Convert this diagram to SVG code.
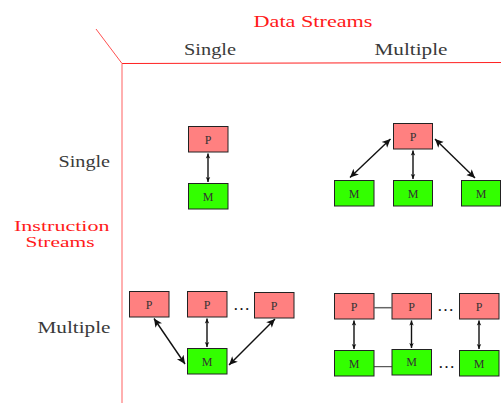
<svg xmlns="http://www.w3.org/2000/svg" width="501" height="403" viewBox="0 0 501 403">
<defs>
<style>
.lab{font-family:"Liberation Serif","DejaVu Serif",serif;font-size:17px;fill:#3a3a3a}
.red{font-family:"Liberation Serif","DejaVu Serif",serif;font-size:17px;fill:#ff1a1a}
.red2{font-family:"Liberation Serif","DejaVu Serif",serif;font-size:15.5px;fill:#ff1a1a}
.p rect{fill:#ff8080;stroke:#222;stroke-width:1}
.m rect{fill:#33ff00;stroke:#222;stroke-width:1}
.nt{font-family:"Liberation Serif","DejaVu Serif",serif;font-size:12px;fill:#333;text-anchor:middle}
.ar{stroke:#111;stroke-width:1.4;fill:none;marker-start:url(#ah);marker-end:url(#ah)}
.ars{stroke:#111;stroke-width:1.4;fill:none;marker-start:url(#ahs);marker-end:url(#ahs)}
.dots{font-family:"Liberation Serif","DejaVu Serif",serif;font-size:17px;fill:#111;text-anchor:middle}
</style>
<marker id="ah" markerUnits="userSpaceOnUse" markerWidth="10" markerHeight="9" refX="8.5" refY="4.5" orient="auto-start-reverse"><path d="M0,0.5 L8.5,4.5 L0,8.5 L2.2,4.5 z" fill="#111"/></marker>
<marker id="ahs" markerUnits="userSpaceOnUse" markerWidth="6" markerHeight="6" refX="5" refY="3" orient="auto-start-reverse"><path d="M0,0.8 L5,3 L0,5.2 L1.2,3 z" fill="#111"/></marker>
</defs>
<g id="axes" stroke="#ff2020" stroke-width="1" fill="none">
<line x1="96" y1="29" x2="122" y2="63.5" stroke="#ff5050"/>
<line x1="122" y1="63.5" x2="501" y2="62.5"/>
<line x1="122" y1="63.5" x2="122" y2="403" stroke="#ff6060"/>
</g>
<g id="labels">
<text class="red" x="313" y="26.5" text-anchor="middle" textLength="119" lengthAdjust="spacingAndGlyphs">Data Streams</text>
<text class="lab" x="210" y="54.5" text-anchor="middle" textLength="52" lengthAdjust="spacingAndGlyphs">Single</text>
<text class="lab" x="411" y="54.5" text-anchor="middle" textLength="73" lengthAdjust="spacingAndGlyphs">Multiple</text>
<text class="lab" x="58.5" y="166.5" textLength="51.5" lengthAdjust="spacingAndGlyphs">Single</text>
<text class="red2" x="14" y="231" textLength="95.5" lengthAdjust="spacingAndGlyphs">Instruction</text>
<text class="red2" x="25.5" y="247.3" textLength="69" lengthAdjust="spacingAndGlyphs">Streams</text>
<text class="lab" x="37.5" y="332.5" textLength="73" lengthAdjust="spacingAndGlyphs">Multiple</text>
</g>
<g id="sisd-p" class="p"><rect x="188.5" y="126.5" width="39.5" height="25.5"/><text class="nt" x="208.2" y="143.5">P</text></g>
<g id="sisd-m" class="m"><rect x="188.5" y="183.5" width="39.5" height="25.5"/><text class="nt" x="208.2" y="200.5">M</text></g>
<g id="simd-p" class="p"><rect x="393.5" y="123.5" width="39" height="25.5"/><text class="nt" x="413" y="140.5">P</text></g>
<g id="simd-m1" class="m"><rect x="334.5" y="180.5" width="39.5" height="25.5"/><text class="nt" x="354.2" y="197.5">M</text></g>
<g id="simd-m2" class="m"><rect x="393.5" y="180.5" width="39" height="25.5"/><text class="nt" x="413" y="197.5">M</text></g>
<g id="simd-m3" class="m"><rect x="461.5" y="180.5" width="39" height="25.5"/><text class="nt" x="481" y="197.5">M</text></g>
<g id="misd-p1" class="p"><rect x="129.5" y="291.5" width="39.5" height="25.5"/><text class="nt" x="149.2" y="308.5">P</text></g>
<g id="misd-p2" class="p"><rect x="187.5" y="291.5" width="39.5" height="25.5"/><text class="nt" x="207.2" y="308.5">P</text></g>
<g id="misd-p3" class="p"><rect x="254.5" y="292.5" width="39.5" height="25.5"/><text class="nt" x="274.2" y="309.5">P</text></g>
<g id="misd-m" class="m"><rect x="187.5" y="348.5" width="39.5" height="25.5"/><text class="nt" x="207.2" y="365.5">M</text></g>
<g id="mimd-p1" class="p"><rect x="334.5" y="293.5" width="39.5" height="25.5"/><text class="nt" x="354.2" y="310.5">P</text></g>
<g id="mimd-p2" class="p"><rect x="392" y="293.5" width="39.5" height="25.5"/><text class="nt" x="411.7" y="310.5">P</text></g>
<g id="mimd-p3" class="p"><rect x="459.5" y="293.5" width="39.5" height="25.5"/><text class="nt" x="479.2" y="310.5">P</text></g>
<g id="mimd-m1" class="m"><rect x="334.5" y="350.5" width="39.5" height="25.5"/><text class="nt" x="354.2" y="367.5">M</text></g>
<g id="mimd-m2" class="m"><rect x="392" y="349.5" width="39.5" height="25.5"/><text class="nt" x="411.7" y="366">M</text></g>
<g id="mimd-m3" class="m"><rect x="459.5" y="350.5" width="39.5" height="25.5"/><text class="nt" x="479.2" y="367.5">M</text></g>
<g id="connectors">
<line class="ars" x1="208" y1="153.5" x2="208" y2="182"/>
<line class="ar" x1="390.5" y1="139" x2="350" y2="177.5"/>
<line class="ars" x1="413" y1="150.5" x2="413" y2="179"/>
<line class="ar" x1="435" y1="139" x2="475" y2="178"/>
<line class="ar" x1="154" y1="318.5" x2="185" y2="364"/>
<line class="ars" x1="207" y1="318.5" x2="207" y2="347"/>
<line class="ar" x1="229" y1="365" x2="275" y2="319"/>
<line class="ars" x1="354" y1="320.5" x2="354" y2="349"/>
<line class="ars" x1="411.5" y1="320.5" x2="411.5" y2="348"/>
<line class="ars" x1="479" y1="320.5" x2="479" y2="349"/>
<line x1="374" y1="307.7" x2="392" y2="307.7" stroke="#666" stroke-width="1.5"/>
<line x1="374" y1="366.7" x2="392" y2="366.7" stroke="#333" stroke-width="1"/>
</g>
<g id="ellipses">
<text class="dots" x="241.5" y="310">…</text>
<text class="dots" x="445.5" y="311">…</text>
<text class="dots" x="446.5" y="368">…</text>
</g>
</svg>
